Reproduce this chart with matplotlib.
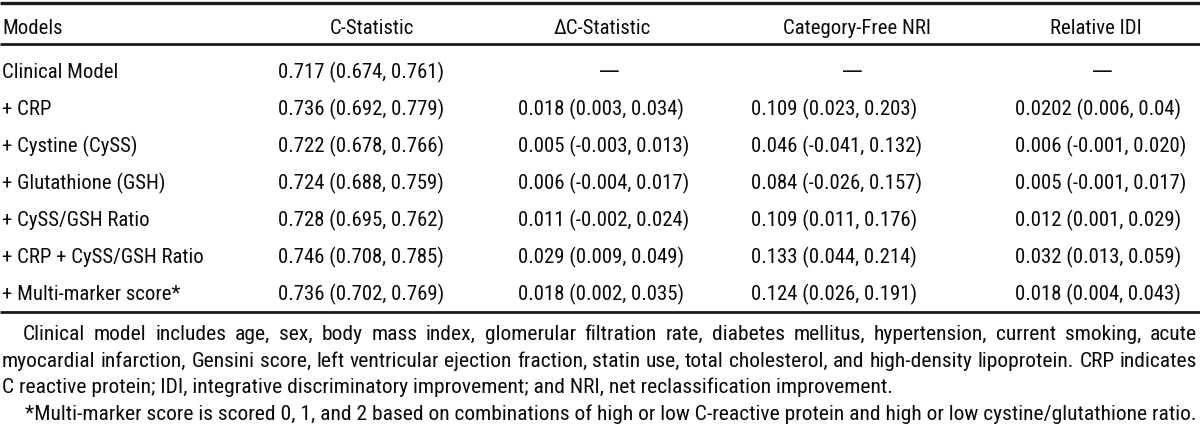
import matplotlib
matplotlib.use("Agg")
import matplotlib.pyplot as plt

plt.rcParams['font.family'] = ['Roboto Condensed', 'DejaVu Sans']

headers = ["Models", "C-Statistic", "\u0394C-Statistic", "Category-Free NRI", "Relative IDI"]
models = ["Clinical Model", "+ CRP", "+ Cystine (CySS)", "+ Glutathione (GSH)",
          "+ CySS/GSH Ratio", "+ CRP + CySS/GSH Ratio", "+ Multi-marker score*"]
c_stat = ["0.717 (0.674, 0.761)", "0.736 (0.692, 0.779)", "0.722 (0.678, 0.766)",
          "0.724 (0.688, 0.759)", "0.728 (0.695, 0.762)", "0.746 (0.708, 0.785)",
          "0.736 (0.702, 0.769)"]
delta_c = ["\u2014", "0.018 (0.003, 0.034)", "0.005 (-0.003, 0.013)", "0.006 (-0.004, 0.017)",
           "0.011 (-0.002, 0.024)", "0.029 (0.009, 0.049)", "0.018 (0.002, 0.035)"]
nri = ["\u2014", "0.109 (0.023, 0.203)", "0.046 (-0.041, 0.132)", "0.084 (-0.026, 0.157)",
       "0.109 (0.011, 0.176)", "0.133 (0.044, 0.214)", "0.124 (0.026, 0.191)"]
idi = ["\u2014", "0.0202 (0.006, 0.04)", "0.006 (-0.001, 0.020)", "0.005 (-0.001, 0.017)",
       "0.012 (0.001, 0.029)", "0.032 (0.013, 0.059)", "0.018 (0.004, 0.043)"]
footnote_lines = [
    "Clinical model includes age, sex, body mass index, glomerular filtration rate, diabetes mellitus, hypertension, current smoking, acute",
    "myocardial infarction, Gensini score, left ventricular ejection fraction, statin use, total cholesterol, and high-density lipoprotein. CRP indicates",
    "C reactive protein; IDI, integrative discriminatory improvement; and NRI, net reclassification improvement.",
    "*Multi-marker score is scored 0, 1, and 2 based on combinations of high or low C-reactive protein and high or low cystine/glutathione ratio.",
]

W, H = 1200, 435
fig = plt.figure(figsize=(W / 100, H / 100), dpi=100)
ax = fig.add_axes([0, 0, 1, 1])
ax.set_xlim(0, W)
ax.set_ylim(H, 0)
ax.axis("off")
renderer = fig.canvas.get_renderer()
ink = "#0a0a0a"


def width_of(s, size):
    t = ax.text(0, 0, s, fontsize=size)
    w = t.get_window_extent(renderer).width
    t.remove()
    return w


# fit font sizes to widths measured on the reference
body_size = 10 * 116 / width_of("Clinical Model", 10)
foot_size = 10 * 1166 / width_of(footnote_lines[3], 10)

# rules
ax.hlines([4], 0, W, color="#1a1a1a", lw=2.4)
ax.hlines([45, 313], 0, W, color="#1a1a1a", lw=2.0)

# header row
head_y = 34
head_x = [2, 372, 602, 857, 1096]
ax.text(head_x[0], head_y, headers[0], fontsize=body_size, ha="left", va="baseline", color=ink)
for x, h in zip(head_x[1:], headers[1:]):
    ax.text(x, head_y, h, fontsize=body_size, ha="center", va="baseline", color=ink)

# body rows
row_y0, row_dy = 78, 37
val_left = [278, 518, 751, 1015]
dash_center = [372, 609, 852, 1102]
columns = [c_stat, delta_c, nri, idi]
for i, m in enumerate(models):
    y = row_y0 + i * row_dy
    ax.text(2, y, m, fontsize=body_size, ha="left", va="baseline", color=ink)
    for j, col in enumerate(columns):
        s = col[i]
        if s == "\u2014":
            # wider em dash, as in the reference
            ax.text(dash_center[j], y - 1, s, fontsize=body_size, ha="center", va="baseline",
                    color=ink, family="DejaVu Sans")
        else:
            ax.text(val_left[j], y, s, fontsize=body_size, ha="left", va="baseline", color=ink)

# footnotes (first two lines justified)
foot_y = [340, 367, 393, 420]
foot_x = [23, 2, 2, 25]
justify = [True, True, False, False]
right_edge = 1197
for line, y, x0, jus in zip(footnote_lines, foot_y, foot_x, justify):
    if not jus:
        ax.text(x0, y, line, fontsize=foot_size, ha="left", va="baseline", color=ink)
        continue
    words = line.split(" ")
    widths = [width_of(w, foot_size) for w in words]
    gap = (right_edge - x0 - sum(widths)) / (len(words) - 1)
    x = x0
    for w, wd in zip(words, widths):
        ax.text(x, y, w, fontsize=foot_size, ha="left", va="baseline", color=ink)
        x += wd + gap

fig.savefig("out.png", dpi=100)
